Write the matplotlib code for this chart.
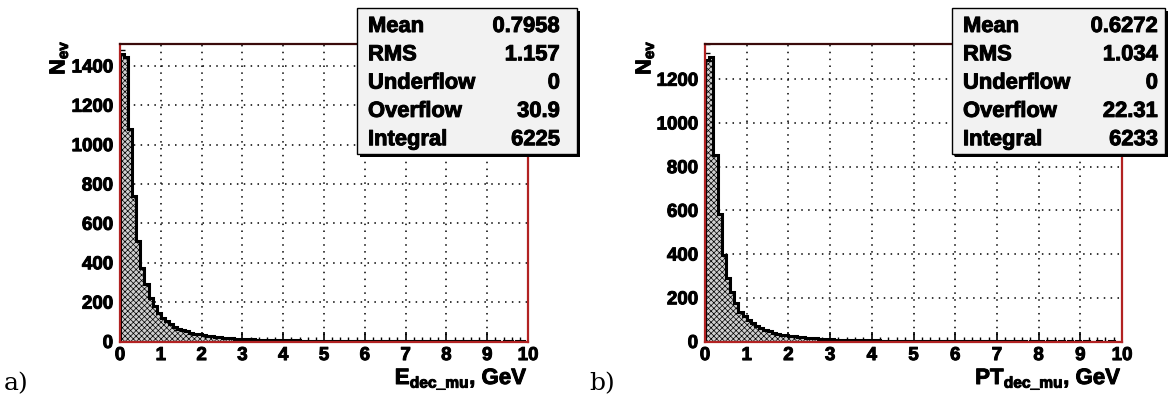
import numpy as np
import matplotlib
matplotlib.use("Agg")
import matplotlib.pyplot as plt
import matplotlib.patheffects as pe
from matplotlib.patches import Rectangle
from matplotlib.ticker import MultipleLocator

plt.rcParams['font.family'] = ['Liberation Sans', 'DejaVu Sans']
plt.rcParams['font.weight'] = 'bold'
plt.rcParams['mathtext.fontset'] = 'custom'
plt.rcParams['mathtext.rm'] = 'Liberation Sans:bold'
plt.rcParams['mathtext.bf'] = 'Liberation Sans:bold'
plt.rcParams['hatch.linewidth'] = 0.5

# heavier look of the ROOT bold font
heavy = [pe.withStroke(linewidth=0.7, foreground='black')]

# bin edges, 100 bins of 0.1 GeV
edges = np.linspace(0, 10, 101)

# a) muon energy
e_counts = [1460, 1445, 1080, 737, 510, 375, 292, 220, 178, 145,
            120, 103, 88, 76, 66, 58, 51, 45, 40, 36,
            32, 29, 26, 24, 22, 20, 18, 17, 15, 14,
            13, 12, 11, 10, 10, 9, 9, 8, 8, 7,
            7, 6, 6, 6, 5, 5, 5, 5, 4, 4,
            4, 4, 4, 3, 3, 3, 3, 3, 3, 3,
            2, 3, 2, 2, 2, 2, 2, 2, 2, 2,
            2, 2, 1, 2, 1, 1, 2, 1, 1, 1,
            1, 1, 1, 1, 1, 1, 1, 1, 1, 1,
            1, 1, 1, 0, 1, 1, 0, 1, 1, 0]
# b) muon transverse momentum
pt_counts = [1290, 1300, 855, 582, 395, 289, 225, 175, 137, 115,
             98, 84, 72, 62, 54, 47, 41, 36, 32, 29,
             26, 23, 21, 19, 17, 16, 14, 13, 12, 11,
             10, 9, 9, 8, 7, 7, 6, 6, 6, 5,
             5, 5, 4, 4, 4, 4, 3, 3, 3, 3,
             3, 3, 2, 2, 2, 2, 2, 2, 2, 2,
             2, 2, 1, 2, 1, 1, 1, 1, 1, 1,
             1, 1, 1, 1, 1, 1, 1, 0, 1, 1,
             1, 0, 1, 1, 0, 1, 0, 1, 0, 1,
             0, 1, 0, 0, 1, 0, 0, 1, 0, 0]

stat_names = ['Mean', 'RMS', 'Underflow', 'Overflow', 'Integral']
e_stats = ['0.7958', '1.157', '0', '30.9', '6225']
pt_stats = ['0.6272', '1.034', '0', '22.31', '6233']

W, H = 1171, 409
fig = plt.figure(figsize=(W / 100, H / 100), dpi=100)

def fx(px):
    return px / W

def fy(py):
    return 1 - py / H

def draw_panel(x0, x1, counts, ymax, ylab_right, xlabel):
    ax = fig.add_axes([fx(x0), fy(341.5), fx(x1) - fx(x0), fy(44) - fy(341.5)])
    ax.set_axisbelow(True)
    ax.stairs(counts, edges, fill=True, facecolor='#cfcfcf', edgecolor='black',
              hatch='xxxxxx', linewidth=0, zorder=2)
    ax.stairs(counts, edges, color='black', linewidth=2.2, zorder=3)
    ax.set_xlim(0, 10)
    ax.set_ylim(0, ymax)
    ax.xaxis.set_major_locator(MultipleLocator(1))
    ax.xaxis.set_minor_locator(MultipleLocator(0.2))
    ax.yaxis.set_major_locator(MultipleLocator(200))
    ax.yaxis.set_minor_locator(MultipleLocator(40))
    ax.tick_params(which='both', direction='in', top=False, right=False,
                   colors='black', labelsize=13.5)
    ax.tick_params(which='major', length=7, width=1.2)
    ax.tick_params(which='minor', length=3.5, width=1.0)
    ax.tick_params(axis='y', pad=5)
    ax.tick_params(axis='x', pad=4)
    for lab in ax.get_xticklabels() + ax.get_yticklabels():
        lab.set_fontweight('bold')
        lab.set_path_effects(heavy)
    ax.grid(True, which='major', color='black', linestyle=(0, (1, 3.5)), linewidth=1.1)
    for s in ax.spines.values():
        s.set_color('#b22222')
        s.set_linewidth(1.6)
        s.set_zorder(4)
    ax.spines['top'].set_color('#3a0a0a')
    ax.text(1.0, -0.143, xlabel, transform=ax.transAxes, ha='right', va='baseline',
            fontsize=16, fontweight='bold', path_effects=heavy)
    ax.text((ylab_right - x0) / (x1 - x0), 1.012, r'$\mathrm{N}_{\mathrm{ev}}$',
            transform=ax.transAxes, rotation=90, ha='right', va='top',
            fontsize=15.5, fontweight='bold', path_effects=heavy)
    return ax

ax1 = draw_panel(120, 528, e_counts, 1511, 70, r'$\mathrm{E}_{\mathrm{dec\_mu}}$, GeV')
ax2 = draw_panel(705, 1122, pt_counts, 1361, 656, r'$\mathrm{PT}_{\mathrm{dec\_mu}}$, GeV')

def stats_box(bx0, bx1, tx0, tx1, values):
    by0, by1 = 8, 154
    sh = 3
    fig.patches.append(Rectangle((fx(bx0 + sh), fy(by1 + sh)), fx(bx1) - fx(bx0), fy(by0) - fy(by1),
                                 transform=fig.transFigure, facecolor='black', edgecolor='none',
                                 zorder=10))
    fig.patches.append(Rectangle((fx(bx0), fy(by1)), fx(bx1) - fx(bx0), fy(by0) - fy(by1),
                                 transform=fig.transFigure, facecolor='#f2f2f2', edgecolor='black',
                                 linewidth=1.0, zorder=11))
    for i, (name, val) in enumerate(zip(stat_names, values)):
        yb = 32 + 28.3 * i
        fig.text(fx(tx0), fy(yb), name, ha='left', va='baseline', fontsize=15.8,
                 fontweight='bold', zorder=12, path_effects=heavy)
        fig.text(fx(tx1), fy(yb), val, ha='right', va='baseline', fontsize=15.8,
                 fontweight='bold', zorder=12, path_effects=heavy)

stats_box(357, 577, 368, 560, e_stats)
stats_box(952, 1165, 963, 1158, pt_stats)

fig.text(fx(4), fy(390), 'a)', fontsize=18, family='DejaVu Serif', fontweight='normal',
         ha='left', va='baseline')
fig.text(fx(589), fy(390), 'b)', fontsize=18, family='DejaVu Serif', fontweight='normal',
         ha='left', va='baseline')

fig.savefig('out.png', dpi=100)
